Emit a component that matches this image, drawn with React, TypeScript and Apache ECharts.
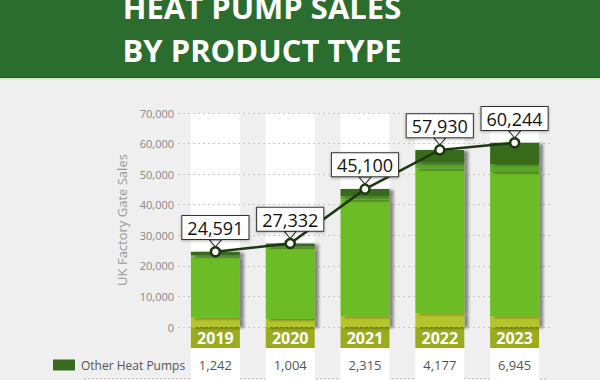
import React, { useEffect, useRef } from "react";
import * as echarts from "echarts";

const years = ["2019", "2020", "2021", "2022", "2023"];
const hybridHeatPumps = [3000, 2600, 3500, 4500, 3500];
const airSourceHeatPumps = [20049, 23328, 38085, 47253, 47199];
const groundSourceHeatPumps = [300, 400, 1200, 2000, 2600];
const otherHeatPumps = [1242, 1004, 2315, 4177, 6945];
const totals = [24591, 27332, 45100, 57930, 60244];
const yTicks = { min: 0, max: 70000, interval: 10000 };

const fmt = (v: number) => v.toLocaleString("en-US");
const FONT = "Open Sans";

export default function App() {
  const ref = useRef<HTMLDivElement>(null);
  useEffect(() => {
    if (!ref.current) return;
    const chart = echarts.init(ref.current, undefined, { renderer: "svg" });
    const shadow = {
      shadowColor: "rgba(0,0,0,0.45)",
      shadowBlur: 3,
      shadowOffsetX: 4,
      shadowOffsetY: 1,
    };
    const barBase = {
      type: "bar",
      stack: "total",
      barWidth: 49,
      z: 3,
    };
    chart.setOption({
      animation: false,
      backgroundColor: "#efefef",
      textStyle: { fontFamily: FONT },
      graphic: [
        { type: "rect", shape: { x: 0, y: 0, width: 600, height: 77 }, style: { fill: "#2b6d2e" } },
        { type: "rect", shape: { x: 0, y: 77, width: 600, height: 1 }, style: { fill: "#245a27" } },
        { type: "rect", shape: { x: 0, y: 78, width: 600, height: 2 }, style: { fill: "#cdeec6" } },
        {
          type: "text",
          x: 262,
          y: 7,
          style: {
            text: "HEAT PUMP SALES",
            fill: "#ffffff",
            font: `bold 31px "${FONT}"`,
            align: "center",
            verticalAlign: "middle",
          },
        },
        {
          type: "text",
          x: 262,
          y: 50,
          style: {
            text: "BY PRODUCT TYPE",
            fill: "#ffffff",
            font: `bold 31px "${FONT}"`,
            align: "center",
            verticalAlign: "middle",
          },
        },
        {
          type: "line",
          shape: { x1: 84, y1: 378.5, x2: 546, y2: 378.5 },
          style: { stroke: "#c8c8c8", lineWidth: 1, lineDash: [2, 2] },
          z: 0,
        },
      ],
      legend: {
        data: ["Other Heat Pumps"],
        left: 53,
        top: 359,
        padding: 0,
        icon: "rect",
        itemWidth: 22,
        itemHeight: 11,
        itemGap: 10,
        textStyle: { color: "#555", fontSize: 12, fontFamily: FONT, padding: [0, 0, 0, 1] },
        selectedMode: false,
      },
      grid: { left: 178, width: 374, top: 113, height: 216 },
      xAxis: {
        type: "category",
        data: years,
        axisLine: { show: false },
        axisTick: { show: false },
        axisLabel: {
          margin: 0,
          verticalAlign: "top",
          formatter: (v: string, i: number) => `{y|${v}}\n{g|}\n{v|${fmt(otherHeatPumps[i])}}`,
          rich: {
            y: {
              width: 49,
              height: 21,
              lineHeight: 21,
              align: "center",
              backgroundColor: "#9aab1e",
              color: "#ffffff",
              fontWeight: "bold",
              fontSize: 16,
              fontFamily: FONT,
            },
            g: { width: 49, height: 2, lineHeight: 2, backgroundColor: "#ffffff" },
            v: {
              width: 49,
              height: 30,
              lineHeight: 30,
              align: "center",
              backgroundColor: "#ffffff",
              color: "#555",
              fontSize: 13,
              fontFamily: FONT,
            },
          },
        },
      },
      yAxis: {
        type: "value",
        min: yTicks.min,
        max: yTicks.max,
        interval: yTicks.interval,
        z: 2,
        name: "UK Factory Gate Sales",
        nameLocation: "middle",
        nameGap: 43,
        nameTextStyle: { color: "#999", fontSize: 13, fontFamily: FONT },
        axisLine: { show: false },
        axisTick: { show: false },
        axisLabel: { color: "#888", fontSize: 11, margin: 4, formatter: (v: number) => fmt(v) },
        splitLine: { lineStyle: { color: "#c8c8c8", type: [2, 3], width: 1 } },
      },
      series: [
        {
          name: "columns",
          type: "bar",
          barWidth: 49,
          barGap: "-100%",
          z: 1,
          silent: true,
          data: years.map(() => 0),
          showBackground: true,
          backgroundStyle: { color: "#ffffff" },
          itemStyle: { color: "transparent" },
        },
        {
          ...barBase,
          name: "Hybrid Heat Pumps",
          data: hybridHeatPumps,
          itemStyle: { color: "#b3c52a", ...shadow },
        },
        {
          ...barBase,
          name: "Air Source Heat Pumps",
          data: airSourceHeatPumps,
          itemStyle: { color: "#6cbc27", ...shadow },
        },
        {
          ...barBase,
          name: "Ground Source Heat Pumps",
          data: groundSourceHeatPumps,
          itemStyle: { color: "#5aa62c", ...shadow },
        },
        {
          ...barBase,
          name: "Other Heat Pumps",
          data: otherHeatPumps,
          itemStyle: { color: "#386a1f", ...shadow },
        },
        {
          name: "Total",
          type: "line",
          data: totals,
          z: 10,
          symbol: "circle",
          symbolSize: 9,
          lineStyle: { color: "#1c3812", width: 2.5 },
          itemStyle: { color: "#ffffff", borderColor: "#1c3812", borderWidth: 2.5 },
          label: {
            show: true,
            position: "top",
            distance: 7,
            formatter: (p: any) => fmt(p.value),
            backgroundColor: "#ffffff",
            borderColor: "#333",
            borderWidth: 1,
            padding: [3, 5, 2, 5],
            color: "#111",
            fontSize: 18,
            fontWeight: 500,
            fontFamily: FONT,
            shadowColor: "rgba(0,0,0,0.3)",
            shadowBlur: 3,
            shadowOffsetY: 1,
          },
          markPoint: {
            silent: true,
            symbol: "path://M0,0 L12,0 L6,7 Z",
            symbolSize: [12, 7],
            symbolOffset: [0, -8.5],
            itemStyle: { color: "#ffffff", borderColor: "#333", borderWidth: 1 },
            label: { show: false },
            data: totals.map((v, i) => ({ coord: [i, v] })),
          },
        },
      ],
    });
    return () => chart.dispose();
  }, []);
  return (
    <div
      ref={ref}
      style={{ position: "fixed", left: 0, top: 0, width: 600, height: 380 }}
    />
  );
}
